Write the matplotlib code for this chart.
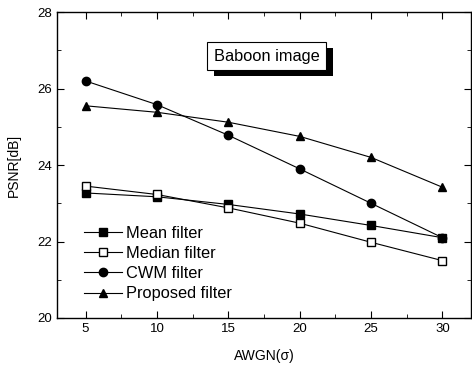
import numpy as np
import matplotlib.pyplot as plt
from matplotlib.ticker import MultipleLocator
import matplotlib.patheffects as pe

plt.rcParams['font.family'] = ['Liberation Sans', 'DejaVu Sans']

sigma = [5, 10, 15, 20, 25, 30]
mean_f = [23.27, 23.17, 22.97, 22.72, 22.42, 22.10]
median_f = [23.45, 23.23, 22.88, 22.48, 21.98, 21.50]
cwm_f = [26.20, 25.58, 24.78, 23.90, 23.00, 22.10]
proposed_f = [25.55, 25.38, 25.12, 24.75, 24.20, 23.42]

fig = plt.figure(figsize=(4.72, 3.65), dpi=100)
ax = fig.add_axes([0.1208, 0.1288, 0.877, 0.838])

kw = dict(color='black', lw=0.8, ms=5.5)
ax.plot(sigma, mean_f, marker='s', mfc='black', label='Mean filter', **kw)
ax.plot(sigma, median_f, marker='s', mfc='white', label='Median filter', **kw)
ax.plot(sigma, cwm_f, marker='o', mfc='black', ms=6, color='black', lw=0.8, label='CWM filter')
ax.plot(sigma, proposed_f, marker='^', mfc='black', ms=6, color='black', lw=0.8, label='Proposed filter')

ax.set_xlim(3, 32)
ax.set_ylim(20, 28)
ax.xaxis.set_major_locator(MultipleLocator(5))
ax.xaxis.set_minor_locator(MultipleLocator(2.5))
ax.yaxis.set_major_locator(MultipleLocator(2))
ax.yaxis.set_minor_locator(MultipleLocator(1))
ax.tick_params(which='both', direction='in', top=True, right=True, labelsize=9.5)
ax.tick_params(which='major', length=5)
ax.tick_params(which='minor', length=3)
for s in ax.spines.values():
    s.set_linewidth(1.0)

ax.set_xlabel('AWGN(σ)', fontsize=10, labelpad=10)
ax.set_ylabel('PSNR[dB]', fontsize=10, labelpad=12)

ax.text(17.7, 26.85, 'Baboon image', fontsize=11.8, ha='center', va='center',
        bbox=dict(boxstyle='square,pad=0.4', fc='white', ec='black', lw=0.8,
                  path_effects=[pe.withSimplePatchShadow(offset=(4.5, -4.5), shadow_rgbFace='black', alpha=1)]))

ax.legend(loc='lower left', bbox_to_anchor=(0.05, 0.033), frameon=False, fontsize=11.8,
          handlelength=2.3, handletextpad=0.25, labelspacing=0.32, borderaxespad=0)

fig.savefig('out.png', dpi=100)
